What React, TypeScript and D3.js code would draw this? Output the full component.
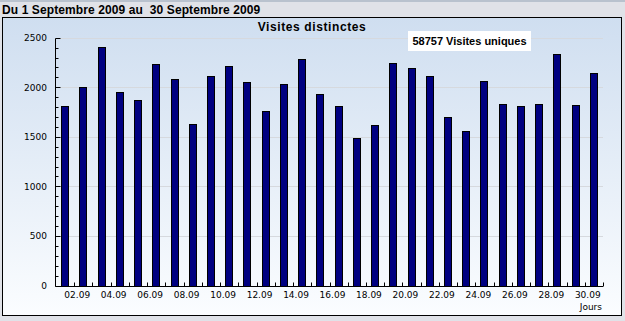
import React from "react";
import * as d3 from "d3";

const days = Array.from({ length: 30 }, (_, i) => String(i + 1).padStart(2, "0") + ".09");
const visits = [1811, 2000, 2407, 1953, 1875, 2235, 2084, 1630, 2114, 2215, 2053, 1761, 2033, 2286, 1932, 1811, 1488, 1620, 2245, 2191, 2111, 1700, 1559, 2064, 1831, 1811, 1831, 2336, 1821, 2144];
const yMajor = [0, 500, 1000, 1500, 2000, 2500];
const yMinor = d3.range(0, 2501, 100);
const titleText = "Du 1 Septembre 2009 au  30 Septembre 2009";
const chartTitle = "Visites distinctes";
const totalLabel = "58757 Visites uniques";
const xAxisTitle = "Jours";

export default function App() {
  const W = 625, H = 321;
  const x = d3.scaleBand<string>().domain(days).range([56, 603]).padding(0);
  const y = d3.scaleLinear().domain([0, 2500]).range([285.5, 37.7]);
  const bw = x.bandwidth();
  const barW = 7;
  const y0 = Math.round(y(0)) + 0.5;
  const fontTick = "'DejaVu Sans', Verdana, sans-serif";
  const fontBold = "'Liberation Sans', Arial, sans-serif";

  return (
    <svg width={W} height={H} style={{ position: "absolute", left: 0, top: 0, display: "block" }}>
      <defs>
        <linearGradient id="bg" x1="0" y1="0" x2="0" y2="1">
          <stop offset="0%" stopColor="#cfdef0" />
          <stop offset="100%" stopColor="#fbfdff" />
        </linearGradient>
      </defs>
      <rect x={0} y={0} width={W} height={H} fill="#e0e2e8" />
      <rect x={0} y={0} width={W} height={2} fill="#b9c2ce" />
      <text x={2} y={14} fontFamily={fontBold} fontWeight="bold" fontSize={12} fill="#000" letterSpacing={0.1} style={{ whiteSpace: "pre" }}>
        {titleText}
      </text>
      <rect x={2.5} y={17.5} width={619} height={298} fill="url(#bg)" stroke="#000" strokeWidth={1} />

      {/* gridlines */}
      {yMajor.filter(v => v > 0).map(v => (
        <line key={"g" + v} x1={56} x2={603} y1={Math.round(y(v)) + 0.5} y2={Math.round(y(v)) + 0.5} stroke="#d6d9de" strokeWidth={1} />
      ))}

      {/* bars */}
      {days.map((d, i) => {
        const cx = (x(d) as number) + bw / 2;
        const bx = Math.round(cx - (barW + 1) / 2) + 0.5;
        const top = Math.round(y(visits[i])) + 0.5;
        return (
          <rect key={d} x={bx} y={top} width={barW} height={y0 - top} fill="#000080" stroke="#000" strokeWidth={1} />
        );
      })}

      {/* y axis */}
      <line x1={55.5} x2={55.5} y1={Math.round(y(2500)) + 0.5} y2={y0} stroke="#000" />
      {yMinor.map(v => {
        const yy = Math.round(y(v)) + 0.5;
        const major = v % 500 === 0;
        return <line key={"t" + v} x1={55.5} x2={55.5 + (major ? 5 : 3)} y1={yy} y2={yy} stroke="#000" />;
      })}
      {yMajor.map(v => (
        <text key={"yl" + v} x={47} y={y(v) + 3.5} textAnchor="end" fontFamily={fontTick} fontSize={9} fill="#000">
          {v}
        </text>
      ))}

      {/* x axis */}
      <line x1={55.5} x2={603} y1={y0} y2={y0} stroke="#000" />
      {days.map((d) => {
        const xx = Math.round((x(d) as number) + bw) + 0.5;
        return <line key={"xt" + d} x1={xx} x2={xx} y1={y0} y2={y0 - 4} stroke="#000" />;
      })}
      {days.map((d, i) =>
        (i + 1) % 2 === 0 ? (
          <text key={"xl" + d} x={(x(d) as number) + 3} y={298} textAnchor="middle" fontFamily={fontTick} fontSize={9} fill="#000">
            {d}
          </text>
        ) : null
      )}
      <text x={602} y={310} textAnchor="end" fontFamily={fontTick} fontSize={9} fill="#000">
        {xAxisTitle}
      </text>

      {/* chart title */}
      <text x={312} y={31} textAnchor="middle" fontFamily={fontBold} fontWeight="bold" fontSize={12} fill="#000" letterSpacing={0.6}>
        {chartTitle}
      </text>

      {/* total label */}
      <rect x={408} y={31} width={123} height={20} fill="#fff" />
      <text x={469.5} y={45} textAnchor="middle" fontFamily={fontBold} fontWeight="bold" fontSize={11} fill="#000">
        {totalLabel}
      </text>
    </svg>
  );
}
